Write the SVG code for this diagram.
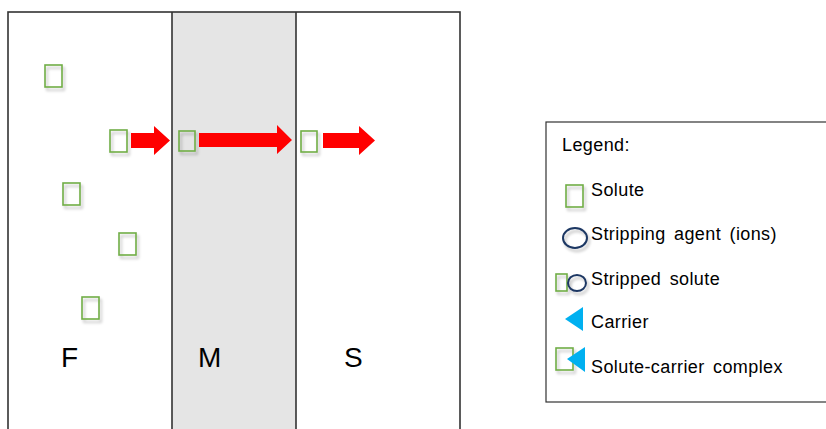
<svg xmlns="http://www.w3.org/2000/svg" width="826" height="429" viewBox="0 0 826 429">
<defs>
<filter id="sh" x="-50%" y="-50%" width="200%" height="200%">
<feGaussianBlur in="SourceAlpha" stdDeviation="1.5"/>
<feOffset dx="2" dy="3" result="b"/>
<feComponentTransfer><feFuncA type="linear" slope="0.25"/></feComponentTransfer>
<feMerge><feMergeNode/><feMergeNode in="SourceGraphic"/></feMerge>
</filter>
</defs>
<style>
.frame{fill:none;stroke:#333;stroke-width:1.6}
.sol{fill:none;stroke:#70AD47;stroke-width:1.6;filter:url(#sh)}
.arr{fill:#FF0000}
.lbl{font-family:"Liberation Sans",Arial,sans-serif;font-size:28px;fill:#000}
.leg{font-family:"Liberation Sans",Arial,sans-serif;font-size:18px;letter-spacing:0.4px;word-spacing:3px;fill:#000}
.ion{fill:none;stroke:#1F3864;stroke-width:2;filter:url(#sh)}
.car{fill:#00B0F0}
</style>
<rect width="826" height="429" fill="#fff"/>
<g id="membrane">
<rect x="172" y="12" width="124" height="430" fill="#E5E5E5"/>
</g>
<g id="cell">
<rect class="frame" x="8" y="12" width="452" height="430"/>
<line class="frame" x1="172" y1="12" x2="172" y2="429"/>
<line class="frame" x1="296" y1="12" x2="296" y2="429"/>
</g>
<g id="solutes">
<rect class="sol" x="45" y="65" width="17" height="22"/>
<rect class="sol" x="110" y="130" width="17" height="22"/>
<rect class="sol" x="63" y="183" width="17" height="22"/>
<rect class="sol" x="119" y="233" width="17" height="22"/>
<rect class="sol" x="82" y="297" width="17" height="22"/>
<rect class="sol" x="179" y="131" width="16" height="20"/>
<rect class="sol" x="301" y="131" width="16" height="21"/>
</g>
<g id="connectors">
<polygon class="arr" points="131,133 154,133 154,126 170,140.5 154,155 154,148 131,148"/>
<polygon class="arr" points="199,133 277,133 277,125 292,140 277,154 277,147 199,147"/>
<polygon class="arr" points="323,133 359,133 359,126 375,140.5 359,155 359,148 323,148"/>
</g>
<g id="labels">
<text class="lbl" x="61" y="367">F</text>
<text class="lbl" x="198" y="367">M</text>
<text class="lbl" x="344" y="367">S</text>
</g>
<g id="legend">
<rect x="546" y="122" width="290" height="280" fill="#fff" stroke="#333" stroke-width="1.2"/>
<text class="leg" x="562" y="151">Legend:</text>
<rect class="sol" x="566" y="185" width="17" height="22"/>
<text class="leg" x="591" y="196">Solute</text>
<ellipse class="ion" cx="575" cy="238" rx="12" ry="10"/>
<text class="leg" x="591" y="240">Stripping agent (ions)</text>
<rect class="sol" x="556" y="274" width="11" height="17"/>
<ellipse class="ion" cx="577" cy="283" rx="9" ry="8"/>
<text class="leg" x="591" y="285">Stripped solute</text>
<polygon class="car" points="565,319 583,307 583,331"/>
<text class="leg" x="591" y="328">Carrier</text>
<rect class="sol" x="556" y="348" width="17" height="22"/>
<polygon class="car" points="567,359 585,347 585,372"/>
<text class="leg" x="591" y="373">Solute-carrier complex</text>
</g>
</svg>
